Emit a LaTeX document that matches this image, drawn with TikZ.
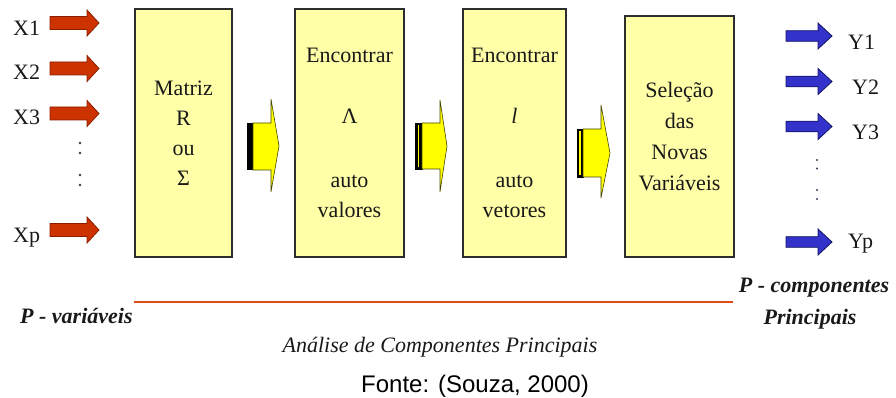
\documentclass[tikz,border=0pt]{standalone}
\usepackage{fontspec}
\setmainfont{Liberation Serif}
\newfontfamily\arialfont{Liberation Sans}
\definecolor{boxfill}{RGB}{255,255,168}
\definecolor{boxedge}{RGB}{45,45,45}
\definecolor{redfill}{RGB}{204,51,0}
\definecolor{rededge}{RGB}{140,30,0}
\definecolor{bluefill}{RGB}{51,51,204}
\definecolor{blueedge}{RGB}{20,20,100}
\definecolor{yelfill}{RGB}{255,255,0}
\definecolor{yeledge}{RGB}{70,70,0}
\definecolor{linecol}{RGB}{225,75,25}
\definecolor{txt}{RGB}{25,25,25}
\definecolor{dotcol}{RGB}{60,60,90}
\begin{document}
\begin{tikzpicture}[x=1pt,y=-1pt,
  box/.style={draw=boxedge,fill=boxfill,line width=1.2pt,inner sep=0pt,outer sep=0pt,
    text=txt,align=center,font=\fontsize{22}{30}\selectfont},
  lbl/.style={inner sep=0pt,text=txt,font=\fontsize{22}{26}\selectfont,anchor=base west},
  bi/.style={inner sep=0pt,text=txt,font=\fontsize{22}{26}\selectfont\bfseries\itshape,anchor=base west},
  dot/.style={fill=dotcol,draw=none},
  fatarrow/.pic={\path[pic actions] (0,-6.5) -- (37,-6.5) -- (37,-13) -- (49,0) -- (37,13) -- (37,6.5) -- (0,6.5) -- cycle;},
  thinarrow/.pic={\path[pic actions] (0,-5.3) -- (32,-5.3) -- (32,-13) -- (46,0) -- (32,13) -- (32,5.3) -- (0,5.3) -- cycle;}
]
\useasboundingbox (0,0) rectangle (896,398);

% boxes
\node[box,minimum width=97pt,minimum height=248pt] (b1) at (183.5,133) {Matriz\\R\\ou\\Σ};
\node[box,minimum width=109pt,minimum height=248pt] (b2) at (349.5,133)
  {Encontrar\\[31pt]Λ\\[34pt]auto\\valores};
\node[box,minimum width=103pt,minimum height=248pt] (b3) at (514.5,133)
  {Encontrar\\[31pt]\textit{l}\\[34pt]auto\\vetores};
\node[box,minimum width=109pt,minimum height=241pt,font=\fontsize{22}{31}\selectfont] (b4) at (679.5,136.5)
  {Seleção\\das\\Novas\\Variáveis};

% input arrows
\pic[fill=redfill,draw=rededge,line width=0.8pt] at (50,23) {fatarrow};
\pic[fill=redfill,draw=rededge,line width=0.8pt] at (50,68.5) {fatarrow};
\pic[fill=redfill,draw=rededge,line width=0.8pt] at (50,113.5) {fatarrow};
\pic[fill=redfill,draw=rededge,line width=0.8pt] at (50,230) {fatarrow};
\node[lbl] (x1) at (13,35.5) {X1};
\node[lbl] (x2) at (13,80) {X2};
\node[lbl] (x3) at (13,124.5) {X3};
\node[lbl] (xp) at (13,242.5) {Xp};
\foreach \yy in {143,153,175,185} \fill[dot] (80,\yy) circle (1.3);

% output arrows
\pic[fill=bluefill,draw=blueedge,line width=0.8pt] at (786,36) {thinarrow};
\pic[fill=bluefill,draw=blueedge,line width=0.8pt] at (786,81.5) {thinarrow};
\pic[fill=bluefill,draw=blueedge,line width=0.8pt] at (786,126.5) {thinarrow};
\pic[fill=bluefill,draw=blueedge,line width=0.8pt] at (786,242) {thinarrow};
\node[lbl] (y1) at (848,50) {Y1};
\node[lbl] (y2) at (852,95) {Y2};
\node[lbl] (y3) at (852,140) {Y3};
\node[lbl] (yp) at (848,248) {Yp};
\foreach \yy in {160,168.5,190,199} \fill[dot] (817,\yy) circle (1.2);

% yellow block arrows
\fill[black] (247,123) rectangle (253,170);
\filldraw[fill=yelfill,draw=yeledge,line width=0.6pt]
  (253,123) -- (271,123) -- (271,99) -- (279,146) -- (271,192) -- (271,170) -- (253,170) -- cycle;

\filldraw[fill=black,draw=black] (415,123) rectangle (422,169);
\draw[yelfill,line width=1.4pt] (418.5,125) -- (418.5,167);
\filldraw[fill=yelfill,draw=yeledge,line width=0.6pt]
  (422,123) -- (440,123) -- (440,100) -- (447,146) -- (440,192) -- (440,169) -- (422,169) -- cycle;

\filldraw[fill=black,draw=black] (577,129) rectangle (583,177);
\draw[yelfill,line width=1.4pt] (580,131) -- (580,175);
\filldraw[fill=yelfill,draw=yeledge,line width=0.6pt]
  (583,129) -- (601,129) -- (601,105) -- (610,153) -- (601,198) -- (601,177) -- (583,177) -- cycle;

% bottom
\coordinate (la) at (134,302);
\coordinate (lb) at (733,302);
\draw[linecol,line width=1.6pt] (la) -- (lb);
\node[bi] (pv) at (20,323) {P - variáveis};
\node[bi,anchor=base] (pc1) at (814,292) {P - componentes};
\node[bi,anchor=base] (pc2) at (810,324) {Principais};
\node[inner sep=0pt,text=txt,font=\fontsize{22}{26}\selectfont\itshape,anchor=base] (acp) at (440,352) {Análise de Componentes Principais};
\node[inner sep=0pt,text=black,font=\arialfont\fontsize{24}{28}\selectfont,anchor=base] (fonte) at (475,392) {Fonte: (Souza, 2000)};
\end{tikzpicture}
\end{document}
